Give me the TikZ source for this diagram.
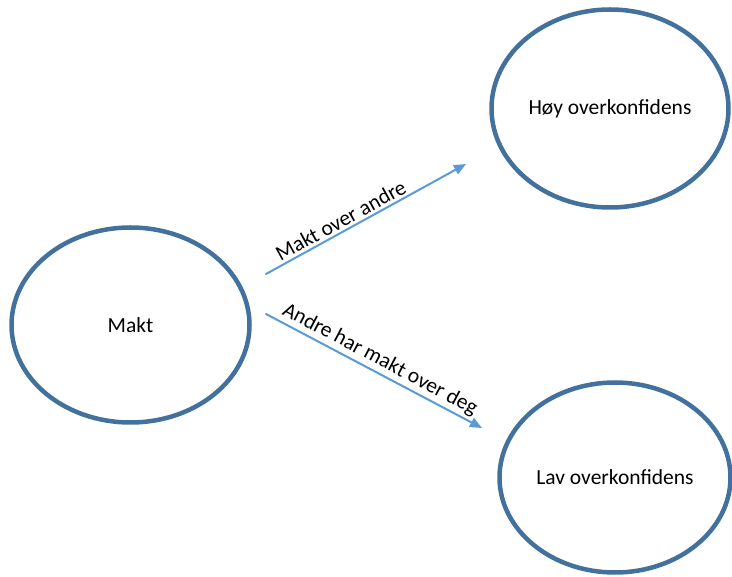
\documentclass[tikz,border=0pt]{standalone}
\usepackage{fontspec}
\setmainfont{Carlito}
\usetikzlibrary{arrows.meta, shapes.geometric}
\definecolor{ringblue}{HTML}{41719C}
\definecolor{arrowblue}{HTML}{5B9BD5}
\begin{document}
\begin{tikzpicture}[x=1pt, y=-1pt, line cap=round, line join=round,
  ring/.style={draw=ringblue, line width=4.5pt, ellipse, inner sep=0pt,
    font=\fontsize{21.5}{26}\selectfont},
  link/.style={draw=arrowblue, line width=2pt,
    -{Triangle[length=12pt, width=10pt]}},
  tag/.style={sloped, above, inner sep=2.5pt, font=\fontsize{21.5}{26}\selectfont}]
\useasboundingbox (0,0) rectangle (732,577);
%\draw[help lines, step=50] (0,0) grid (732,577);

\node [ring, minimum width=238, minimum height=195] (makt) at (130.5,325) {Makt};
\node [ring, minimum width=237, minimum height=198] (hoy) at (610,108.5) {Høy overkonfidens};
\node [ring, minimum width=231, minimum height=190] (lav) at (615,477.5) {Lav overkonfidens};

\coordinate (up1) at (266,274);
\coordinate (up2) at (466,164);
\coordinate (dn1) at (266,314);
\coordinate (dn2) at (482,428);

\draw [link] (up1) -- node [tag, pos=0.4] {Makt over andre} (up2);
\draw [link] (dn1) -- node [tag, pos=0.5] {Andre har makt over deg} (dn2);

\end{tikzpicture}
\end{document}
